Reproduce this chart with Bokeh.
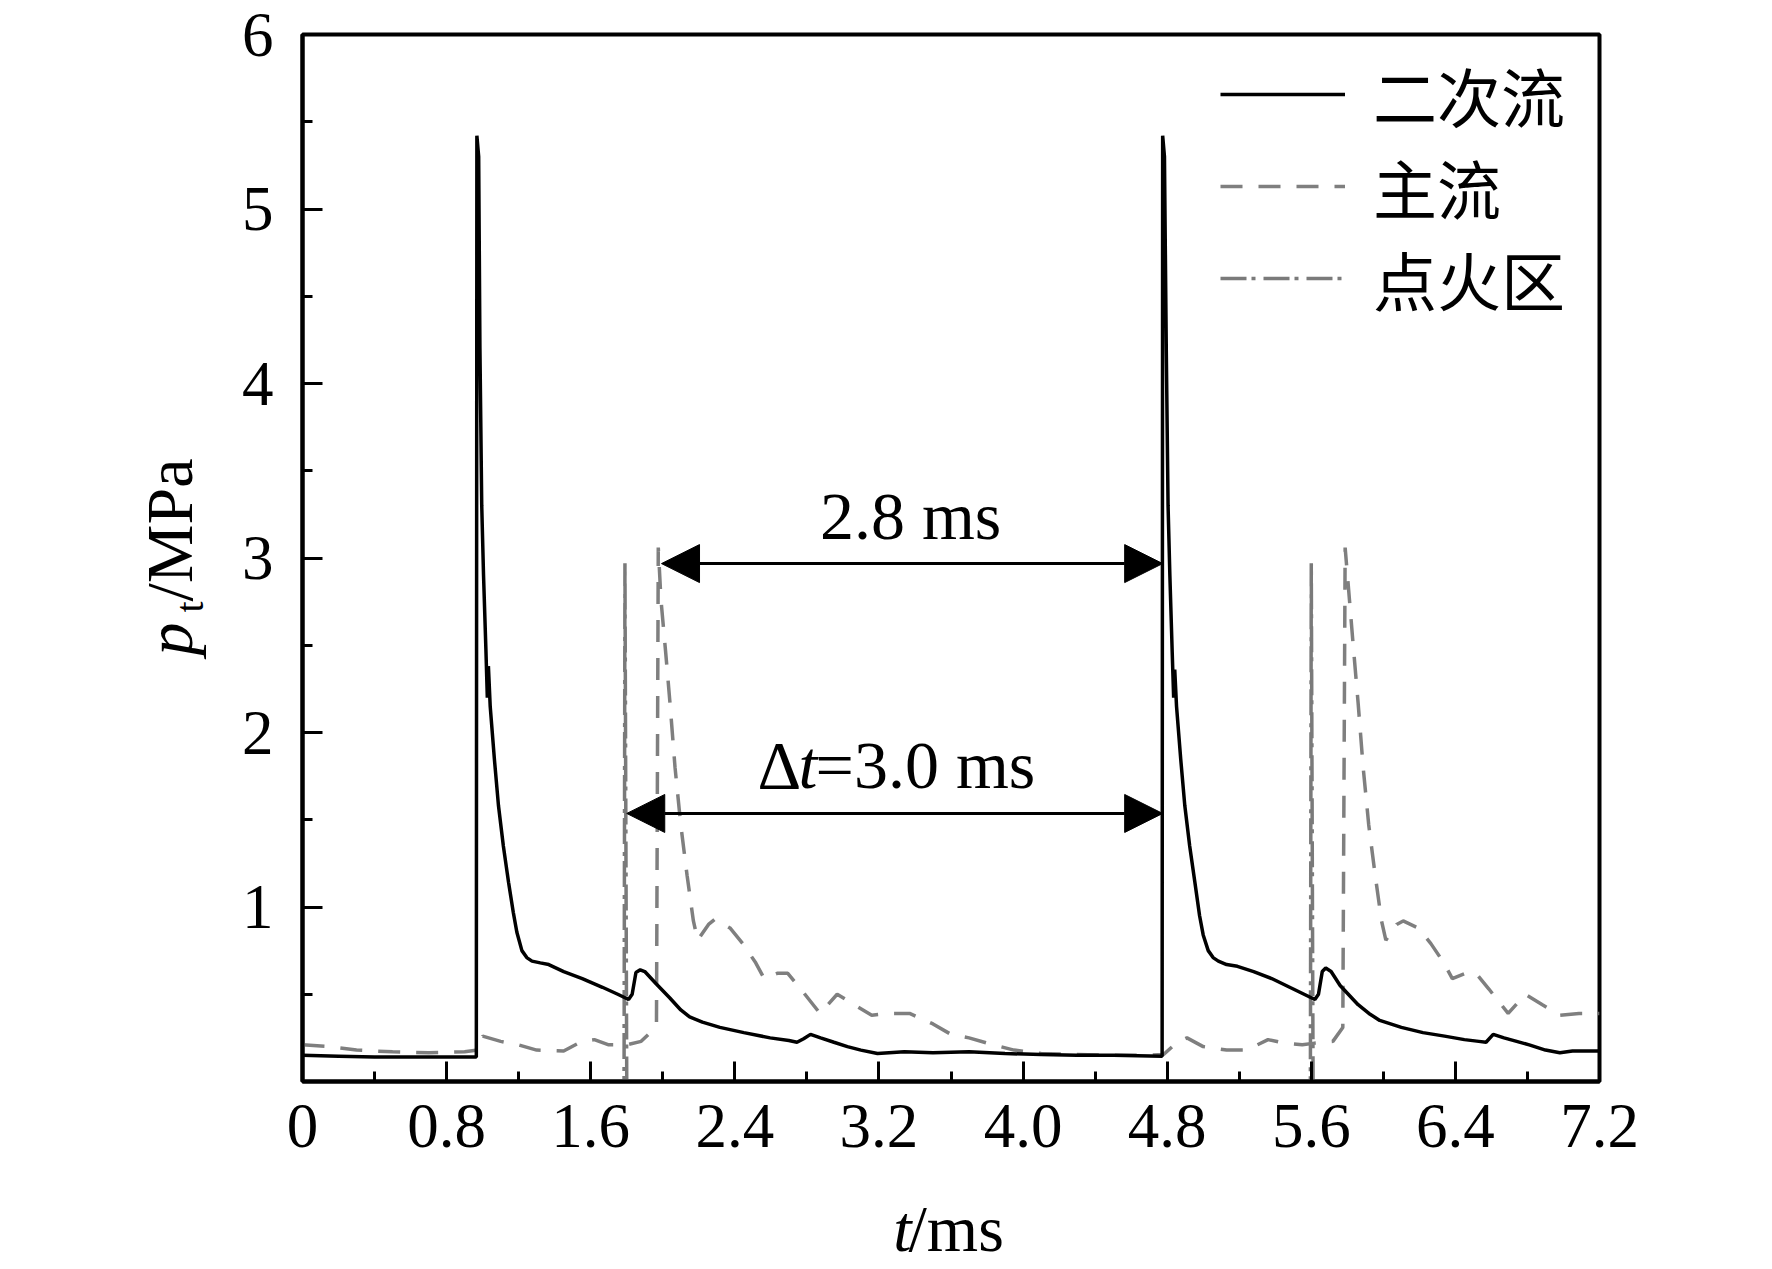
import math
from bokeh.plotting import figure
from bokeh.layouts import row, column
from bokeh.models import (Range1d, FixedTicker, CustomJSTickFormatter, Legend, LegendItem,
                          Arrow, NormalHead, Label)
from bokeh.embed import file_html
from bokeh.resources import INLINE

# ---------------- data ----------------
sec_t = [0.0, 0.2, 0.4, 0.6, 0.8, 0.965, 0.968, 0.978, 0.985, 0.995, 1.005, 1.018, 1.026, 1.032,
         1.042, 1.065, 1.088, 1.115, 1.144, 1.17, 1.19, 1.218, 1.245, 1.274, 1.32, 1.367, 1.45,
         1.553, 1.665, 1.75, 1.79, 1.81, 1.83, 1.851, 1.875, 1.9, 1.963, 2.038, 2.1, 2.149, 2.22,
         2.317, 2.45, 2.596, 2.7, 2.745, 2.782, 2.82, 2.876, 2.95, 3.025, 3.1, 3.192, 3.341, 3.5,
         3.7, 3.9, 4.1, 4.3, 4.5, 4.772,
         4.775, 4.785, 4.795, 4.805, 4.815, 4.828, 4.836, 4.842, 4.852, 4.875, 4.898, 4.925,
         4.954, 4.98, 5.0, 5.028, 5.055, 5.084, 5.13, 5.19, 5.28, 5.38, 5.48, 5.56, 5.6, 5.62,
         5.64, 5.661, 5.68, 5.71, 5.76, 5.86, 5.92, 5.98, 6.1, 6.22, 6.34, 6.45, 6.53, 6.57,
         6.61, 6.67, 6.74, 6.81, 6.9, 6.98, 7.05, 7.2]
sec_p = [0.15, 0.145, 0.14, 0.14, 0.14, 0.14, 5.42, 5.3, 4.2, 3.3, 2.9, 2.48, 2.2, 2.38,
         2.15, 1.85, 1.58, 1.35, 1.14, 0.97, 0.855, 0.75, 0.71, 0.69, 0.68, 0.67, 0.63,
         0.59, 0.54, 0.5, 0.48, 0.47, 0.5, 0.625, 0.64, 0.63, 0.56, 0.48, 0.41, 0.37, 0.34,
         0.31, 0.28, 0.25, 0.235, 0.225, 0.245, 0.27, 0.25, 0.225, 0.2, 0.18, 0.16, 0.17, 0.165,
         0.17, 0.16, 0.155, 0.15, 0.15, 0.145,
         5.42, 5.3, 4.2, 3.3, 2.9, 2.46, 2.2, 2.36, 2.15, 1.85, 1.58, 1.35,
         1.14, 0.95, 0.84, 0.75, 0.71, 0.69, 0.67, 0.66, 0.63, 0.59, 0.54, 0.5, 0.48, 0.47,
         0.5, 0.63, 0.65, 0.63, 0.55, 0.44, 0.39, 0.35, 0.31, 0.28, 0.26, 0.24, 0.23, 0.225,
         0.27, 0.25, 0.23, 0.21, 0.18, 0.165, 0.175, 0.175]

main_t = [0.0, 0.15, 0.3, 0.5, 0.7, 0.9, 0.97, 1.0, 1.1, 1.2, 1.3, 1.45, 1.55, 1.62, 1.7, 1.8,
          1.88, 1.95, 1.965, 1.975, 1.99, 2.016, 2.04, 2.068, 2.1, 2.135, 2.17, 2.194, 2.254,
          2.29, 2.373, 2.444, 2.516, 2.563, 2.635, 2.694, 2.766, 2.873, 2.968, 3.063, 3.16,
          3.266, 3.37, 3.5, 3.6, 3.7, 3.8, 3.95, 4.1, 4.3, 4.5, 4.7, 4.78,
          4.85, 4.91, 5.0, 5.13, 5.24, 5.36, 5.45, 5.55, 5.62, 5.72, 5.775, 5.788, 5.812, 5.836,
          5.86, 5.888, 5.919, 5.955, 5.99, 6.014, 6.074, 6.11, 6.193, 6.264, 6.336, 6.383,
          6.455, 6.514, 6.586, 6.693, 6.788, 6.883, 6.979, 7.086, 7.2]
main_p = [0.21, 0.2, 0.18, 0.17, 0.165, 0.17, 0.18, 0.26, 0.23, 0.21, 0.18, 0.175, 0.23, 0.24,
          0.21, 0.21, 0.23, 0.3, 0.32, 3.06, 2.76, 2.46, 2.17, 1.8, 1.47, 1.18, 0.92, 0.81, 0.9,
          0.93, 0.88, 0.79, 0.68, 0.59, 0.62, 0.62, 0.53, 0.39, 0.5, 0.44, 0.38,
          0.39, 0.39, 0.33, 0.27, 0.25, 0.22, 0.18, 0.16, 0.155, 0.15, 0.15, 0.155,
          0.22, 0.25, 0.2, 0.18, 0.18, 0.24, 0.22, 0.21, 0.22, 0.23, 0.31, 3.06, 2.76, 2.46,
          2.17, 1.8, 1.47, 1.18, 0.92, 0.81, 0.9, 0.92, 0.88, 0.79, 0.68, 0.59,
          0.62, 0.62, 0.53, 0.39, 0.5, 0.44, 0.38, 0.39, 0.39]

ign_t = [0.0, 1.785, 1.79, 1.80, 5.595, 5.60, 5.61, 7.2]
ign_p = [0.0, 0.0, 2.97, 0.0, 0.0, 2.97, 0.0, 0.0]

x_ticks = [0, 0.8, 1.6, 2.4, 3.2, 4.0, 4.8, 5.6, 6.4, 7.2]
x_minor = [0.4, 1.2, 2.0, 2.8, 3.6, 4.4, 5.2, 6.0, 6.8]
y_ticks = [1, 2, 3, 4, 5, 6]
y_minor = [0.5, 1.5, 2.5, 3.5, 4.5, 5.5]

series_names = ["二次流", "主流", "点火区"]

# arrows: (x_start, x_end, y)
arrow_28 = (1.993, 4.775, 2.968)
arrow_30 = (1.80, 4.775, 1.536)

SERIF = "Liberation Serif"
FS = "68px"

W_Y = 215      # width of the y-title strip
H_X = 90       # height of the x-title strip
TOTAL_W = 1756
TOTAL_H = 1266

p = figure(width=TOTAL_W - W_Y, height=TOTAL_H - H_X, output_backend="svg", toolbar_location=None,
           x_range=Range1d(0, 7.2), y_range=Range1d(0, 6),
           min_border_left=87, min_border_right=157, min_border_top=34,
           min_border_bottom=TOTAL_H - H_X - 34 - 1047)
p.background_fill_color = "white"
p.border_fill_color = "white"
p.xgrid.visible = False
p.ygrid.visible = False
p.outline_line_color = "black"
p.outline_line_width = 4

for ax in (p.xaxis[0], p.yaxis[0]):
    ax.axis_line_width = 4
    ax.axis_line_color = "black"
    ax.major_tick_line_width = 3
    ax.minor_tick_line_width = 3
    ax.major_tick_line_color = "black"
    ax.minor_tick_line_color = "black"
    ax.major_tick_out = 0
    ax.minor_tick_out = 0
    ax.major_tick_in = 20
    ax.minor_tick_in = 10
    ax.major_label_text_font = SERIF
    ax.major_label_text_font_size = "63px"
    ax.major_label_text_color = "black"

p.xaxis.ticker = FixedTicker(ticks=x_ticks, minor_ticks=x_minor)
p.yaxis.ticker = FixedTicker(ticks=y_ticks, minor_ticks=y_minor)
p.xaxis.formatter = CustomJSTickFormatter(code="return tick == 0 ? '0' : tick.toFixed(1);")
p.yaxis.formatter = CustomJSTickFormatter(code="return tick.toFixed(0);")
p.xaxis.major_label_standoff = 23
p.yaxis.major_label_standoff = 29

r_ign = p.line(ign_t, ign_p, line_color="#7a7a7a", line_width=3.5, line_dash="26 5 4 8")
r_main = p.line(main_t, main_p, line_color="#7f7f7f", line_width=3.5, line_dash="22 16")
r_sec = p.line(sec_t, sec_p, line_color="black", line_width=3.5)

legend = Legend(items=[LegendItem(label=series_names[0], renderers=[r_sec]),
                       LegendItem(label=series_names[1], renderers=[r_main]),
                       LegendItem(label=series_names[2], renderers=[r_ign])],
                location=(918, 757))
legend.border_line_color = None
legend.background_fill_alpha = 0
legend.label_text_font = "Noto Sans CJK SC"
legend.label_text_font_size = "64px"
legend.label_text_color = "black"
legend.glyph_width = 125
legend.glyph_height = 40
legend.label_standoff = 28
legend.spacing = 0
legend.padding = 20
legend.margin = 0
p.add_layout(legend)

for (x0, x1, yy) in (arrow_28, arrow_30):
    p.add_layout(Arrow(x_start=x0, y_start=yy, x_end=x1, y_end=yy, line_width=3, line_color="black",
                       start=NormalHead(size=38, fill_color="black", line_color="black"),
                       end=NormalHead(size=38, fill_color="black", line_color="black")))


def lab(fig, x, y, text, **kw):
    opts = dict(text_font=SERIF, text_font_size=FS, text_color="black", text_baseline="alphabetic")
    opts.update(kw)
    fig.add_layout(Label(x=x, y=y, text=text, **opts))


lab(p, 3.376, 3.238, "2.8 ms", text_align="center")
lab(p, 2.526, 1.811, "Δ", text_align="left")
lab(p, 2.526, 1.811, "t", text_align="left", x_offset=41, text_font_style="italic")
lab(p, 2.526, 1.811, "=3.0 ms", text_align="left", x_offset=58)


def strip(w, h):
    f = figure(width=w, height=h, output_backend="svg", toolbar_location=None,
               x_range=Range1d(0, w), y_range=Range1d(0, h), x_axis_type=None, y_axis_type=None,
               min_border=0)
    f.outline_line_color = None
    f.xgrid.visible = False
    f.ygrid.visible = False
    f.background_fill_color = "white"
    f.border_fill_color = "white"
    return f


# y-axis title strip (pixel coordinates, origin bottom-left)
fy = strip(W_Y, TOTAL_H)
lab(fy, 169, 611, "p", text_align="left", angle=math.pi / 2, text_font_style="italic",
    text_font_size="66px")
lab(fy, 189, 654, "t", text_align="left", angle=math.pi / 2, text_font_size="40px")
lab(fy, 169, 665, "/MPa", text_align="left", angle=math.pi / 2, text_font_size="66px")

# x-axis title strip
fx = strip(TOTAL_W - W_Y, H_X)
lab(fx, 702, 38, "t", text_align="left", text_font_style="italic", text_font_size="66px")
lab(fx, 720, 38, "/ms", text_align="left", text_font_size="66px")

layout = row(fy, column(p, fx, spacing=0), spacing=0)

open("out.html", "w").write(file_html(layout, INLINE))
